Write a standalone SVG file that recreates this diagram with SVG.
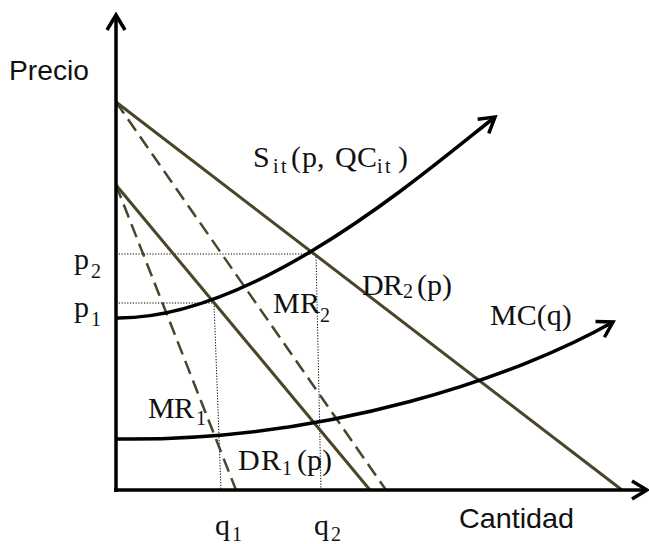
<svg xmlns="http://www.w3.org/2000/svg" width="649" height="544" viewBox="0 0 649 544">
<defs>
<style>
.ax{stroke:#000;stroke-width:3.5;fill:none}
.olive{stroke:#4a452a;stroke-width:3;fill:none}
.dash{stroke:#4a452a;stroke-width:2.5;fill:none;stroke-dasharray:14 7}
.dot{stroke:#000;stroke-width:1;fill:none;stroke-dasharray:1.2 1.6}
.curve{stroke:#000;stroke-width:3.5;fill:none}
.sans{font-family:"Liberation Sans",Arial,sans-serif;font-size:28px;fill:#111}
.math{font-family:"Liberation Serif","Times New Roman",serif;font-size:30px;fill:#111}
.sub{font-size:20px}
</style>
<marker id="arr" markerUnits="userSpaceOnUse" viewBox="-20 -12 24 24" markerWidth="24" markerHeight="24" refX="0" refY="0" orient="auto">
<path d="M-15,-9 L0,0 L-15,9" fill="none" stroke="#000" stroke-width="3.5"/>
</marker>
</defs>
<rect width="649" height="544" fill="#fff"/>
<g id="guides">
<path class="dot" d="M116,254 L316,254 M316,254 L321,490"/>
<path class="dot" d="M116,303 L214,303 M214,303 L221,490"/>
</g>
<g id="connectors">
<path id="DR2" class="olive" d="M116,102 L622,490"/>
<path id="MR2" class="dash" d="M116,102 L386,490"/>
<path id="DR1" class="olive" d="M116,185 L370,490"/>
<path id="MR1" class="dash" d="M116,185 L236,490"/>
<path id="S" class="curve" d="M116,318 C255,320 425,172 495,117" marker-end="url(#arr)"/>
<path id="MC" class="curve" d="M116,439 C330,442 520,375 613,322" marker-end="url(#arr)"/>
</g>
<g id="axes">
<path class="ax" d="M116,492 L116,15" marker-end="url(#arr)"/>
<path class="ax" d="M114,490 L647,490" marker-end="url(#arr)"/>
</g>
<g id="labels">
<text class="sans" x="9" y="80" textLength="80" lengthAdjust="spacingAndGlyphs">Precio</text>
<text class="sans" x="459" y="528" textLength="115" lengthAdjust="spacingAndGlyphs">Cantidad</text>
<text class="math"><tspan x="74" y="269">p</tspan><tspan class="sub" x="91" y="278">2</tspan></text>
<text class="math"><tspan x="74" y="317">p</tspan><tspan class="sub" x="91" y="326">1</tspan></text>
<text class="math"><tspan x="215" y="535">q</tspan><tspan class="sub" x="232" y="541">1</tspan></text>
<text class="math"><tspan x="314" y="535">q</tspan><tspan class="sub" x="331" y="541">2</tspan></text>
<text class="math"><tspan x="253" y="167">S</tspan><tspan class="sub" x="273 281" y="173">it</tspan><tspan x="291" y="167">(</tspan><tspan x="302" y="167">p,</tspan><tspan x="335" y="167">Q</tspan><tspan x="357" y="167">C</tspan><tspan class="sub" x="377 385" y="173">it</tspan><tspan x="398" y="167">)</tspan></text>
<text class="math"><tspan x="362" y="295">D</tspan><tspan x="383" y="295">R</tspan><tspan class="sub" x="403" y="298">2</tspan><tspan x="417" y="295">(p)</tspan></text>
<text class="math"><tspan x="273" y="313">M</tspan><tspan x="300" y="313">R</tspan><tspan class="sub" x="320" y="322">2</tspan></text>
<text class="math"><tspan x="490" y="325">MC(q)</tspan></text>
<text class="math"><tspan x="148" y="418">M</tspan><tspan x="174" y="418">R</tspan><tspan class="sub" x="196" y="425">1</tspan></text>
<text class="math"><tspan x="238" y="470">D</tspan><tspan x="261" y="470">R</tspan><tspan class="sub" x="282" y="475">1</tspan><tspan x="297" y="470">(p)</tspan></text>
</g>
</svg>
